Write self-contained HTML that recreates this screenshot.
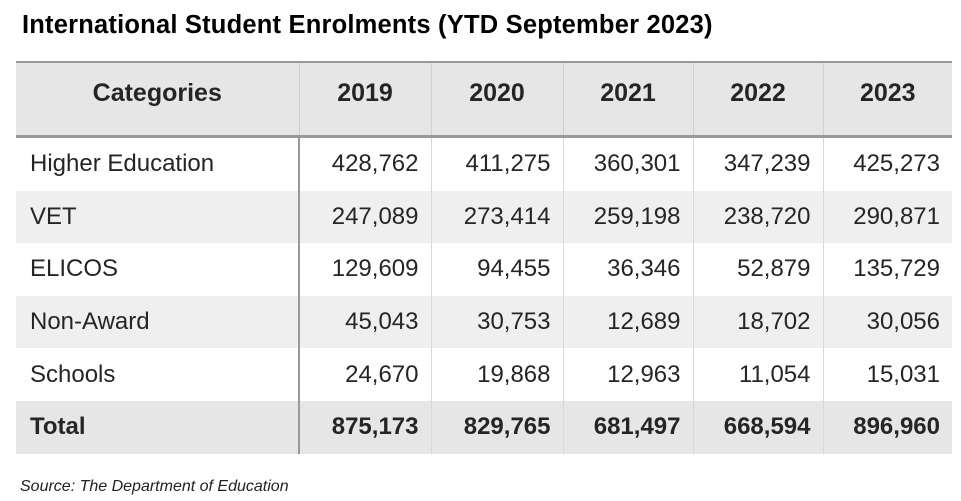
<!DOCTYPE html>
<html><head><meta charset="utf-8">
<style>
body{margin:0;width:961px;height:501px;background:#fff;font-family:"Liberation Sans",sans-serif;position:relative;overflow:hidden}
#title{position:absolute;left:22px;top:11px;font-size:25.5px;font-weight:bold;color:#000;letter-spacing:0.2px}
#src{position:absolute;left:20px;top:478px;font-size:16px;font-style:italic;color:#222}
table{position:absolute;left:16px;top:61px;border-collapse:collapse;width:936px;table-layout:fixed}
th,td{padding:0 12px;color:#252525}
th{height:60px;padding-bottom:12px;background:#e6e6e6;font-size:25px;font-weight:bold;border-top:2px solid #999;border-bottom:3px solid #999;border-left:1px solid #d0d0d0}
td{height:52.6px;font-size:24px;text-align:right;border-left:1px solid #d8d8d8}
td:first-child{text-align:left;padding-left:14px;border-left:none;border-right:2px solid #999}
th:first-child{border-left:none}
tr.alt td{background:#efefef}
tr.total td{background:#e6e6e6;font-weight:bold}
</style></head><body>
<div id="title">International Student Enrolments (YTD September 2023)</div>
<table id="tbl">
<colgroup><col style="width:283px"><col style="width:132px"><col style="width:132px"><col style="width:130px"><col style="width:130px"><col style="width:129px"></colgroup>
<thead><tr id="hdr"></tr></thead>
<tbody id="body"></tbody>
</table>
<div id="src">Source: The Department of Education</div>
<script>
const years=["2019","2020","2021","2022","2023"];
const categories=["Higher Education","VET","ELICOS","Non-Award","Schools"];
const higherEd=[428762,411275,360301,347239,425273];
const vet=[247089,273414,259198,238720,290871];
const elicos=[129609,94455,36346,52879,135729];
const nonAward=[45043,30753,12689,18702,30056];
const schools=[24670,19868,12963,11054,15031];
const series=[higherEd,vet,elicos,nonAward,schools];
const fmt=n=>n.toLocaleString('en-US');
const hdr=document.getElementById('hdr');
["Categories"].concat(years).forEach((h,i)=>{
  const th=document.createElement('th');
  th.textContent=h;
  
  
  hdr.appendChild(th);
});
const body=document.getElementById('body');
function addRow(label,vals,cls){
  const tr=document.createElement('tr');
  if(cls)tr.className=cls;
  
  
  const c=document.createElement('td');c.textContent=label;
  
  
  tr.appendChild(c);
  vals.forEach(v=>{const td=document.createElement('td');td.textContent=fmt(v);
    
    
    tr.appendChild(td);});
  body.appendChild(tr);
}
categories.forEach((c,i)=>addRow(c,series[i],i%2?'alt':''));
const totals=years.map((y,j)=>series.reduce((s,a)=>s+a[j],0));
addRow('Total',totals,'total');
</script>
</body></html>
